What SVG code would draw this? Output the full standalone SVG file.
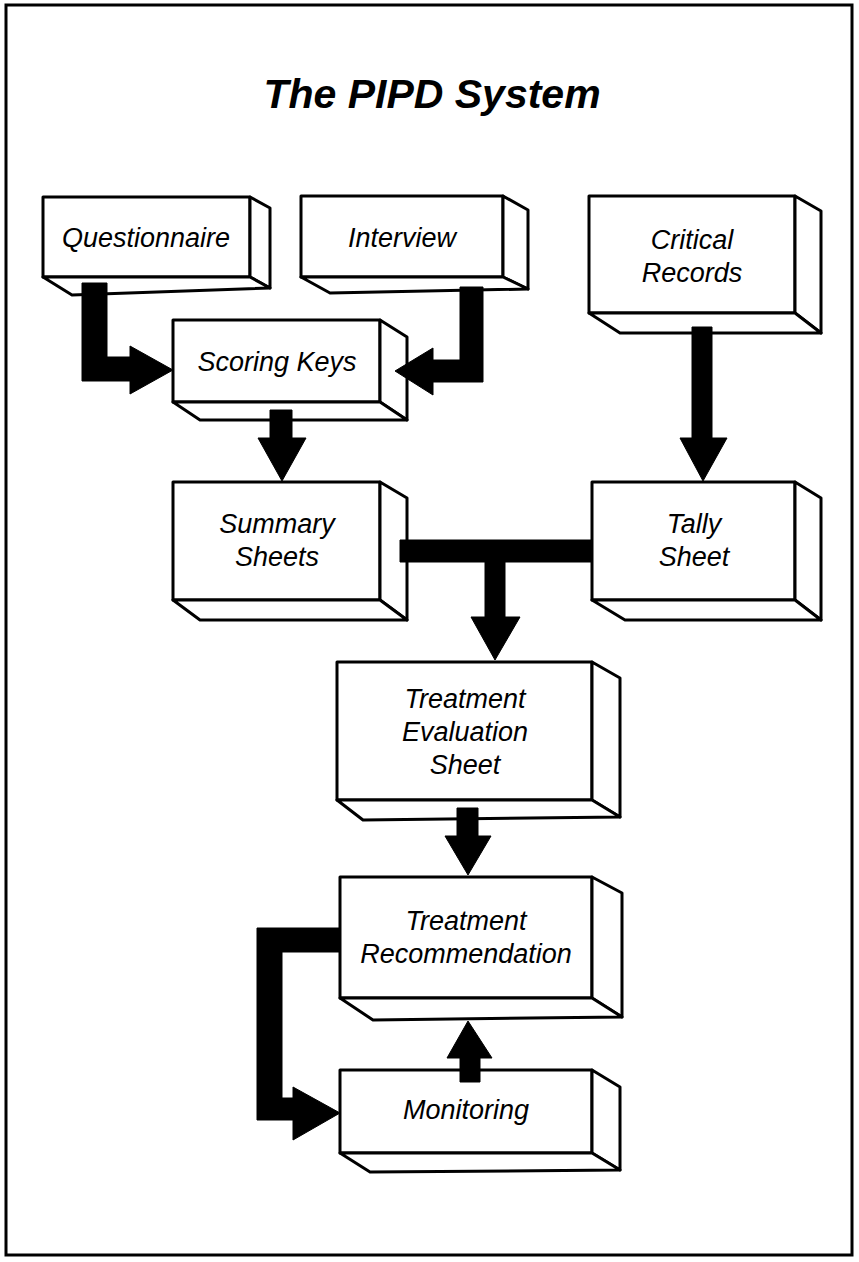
<svg xmlns="http://www.w3.org/2000/svg" width="859" height="1262" viewBox="0 0 859 1262">
<style>
.f{fill:#fff;stroke:#000;stroke-width:3;stroke-linejoin:round}
.lbl{font-family:"Liberation Sans",Arial,sans-serif;font-style:italic;font-size:27px;fill:#000;text-anchor:middle}
.ttl{font-family:"Liberation Sans",Arial,sans-serif;font-style:italic;font-weight:bold;font-size:41px;fill:#000;text-anchor:middle}
.arr{fill:#000;stroke:#000;stroke-width:1;stroke-linejoin:round}
</style>
<rect x="0" y="0" width="859" height="1262" fill="#fff"/>
<rect x="6" y="5" width="846" height="1250" fill="none" stroke="#000" stroke-width="3"/>
<text class="ttl" x="432" y="108">The PIPD System</text>

<g id="questionnaire">
<rect class="f" x="43" y="197" width="207" height="80"/>
<polygon class="f" points="250,197 270,208 270,288 250,277"/>
<polygon class="f" points="43,277 250,277 270,288 72,295"/>
<text class="lbl" x="146" y="247">Questionnaire</text>
</g>
<g id="interview">
<rect class="f" x="301" y="196" width="202" height="81"/>
<polygon class="f" points="503,196 528,210 528,289 503,277"/>
<polygon class="f" points="301,277 503,277 528,289 330,293"/>
<text class="lbl" x="402" y="247">Interview</text>
</g>
<g id="critical-records">
<rect class="f" x="589" y="196" width="206" height="117"/>
<polygon class="f" points="795,196 821,211 821,333 795,313"/>
<polygon class="f" points="589,313 795,313 821,333 620,333"/>
<text class="lbl" x="692" y="249">Critical</text>
<text class="lbl" x="692" y="282">Records</text>
</g>
<g id="scoring-keys">
<rect class="f" x="173" y="320" width="207" height="82"/>
<polygon class="f" points="380,320 407,337 407,420 380,402"/>
<polygon class="f" points="173,402 380,402 407,420 200,420"/>
<text class="lbl" x="277" y="371">Scoring Keys</text>
</g>
<g id="summary-sheets">
<rect class="f" x="173" y="482" width="207" height="118"/>
<polygon class="f" points="380,482 407,498 407,620 380,600"/>
<polygon class="f" points="173,600 380,600 407,620 200,620"/>
<text class="lbl" x="277" y="533">Summary</text>
<text class="lbl" x="277" y="566">Sheets</text>
</g>
<g id="tally-sheet">
<rect class="f" x="592" y="482" width="203" height="118"/>
<polygon class="f" points="795,482 821,498 821,620 795,600"/>
<polygon class="f" points="592,600 795,600 821,620 625,620"/>
<text class="lbl" x="694" y="533">Tally</text>
<text class="lbl" x="694" y="566">Sheet</text>
</g>
<g id="treatment-evaluation-sheet">
<rect class="f" x="337" y="662" width="255" height="138"/>
<polygon class="f" points="592,662 620,678 620,817 592,800"/>
<polygon class="f" points="337,800 592,800 620,817 363,820"/>
<text class="lbl" x="465" y="708">Treatment</text>
<text class="lbl" x="465" y="741">Evaluation</text>
<text class="lbl" x="465" y="774">Sheet</text>
</g>
<g id="treatment-recommendation">
<rect class="f" x="340" y="877" width="252" height="121"/>
<polygon class="f" points="592,877 622,893 622,1017 592,998"/>
<polygon class="f" points="340,998 592,998 622,1017 373,1020"/>
<text class="lbl" x="466" y="930">Treatment</text>
<text class="lbl" x="466" y="963">Recommendation</text>
</g>
<g id="monitoring">
<rect class="f" x="340" y="1070" width="252" height="83"/>
<polygon class="f" points="592,1070 620,1087 620,1170 592,1153"/>
<polygon class="f" points="340,1153 592,1153 620,1170 370,1172"/>
<text class="lbl" x="466" y="1119">Monitoring</text>
</g>

<g id="connectors">
<path class="arr" d="M82,283 H107 V357 H130 V346 L173,370 L130,394 V381 H82 Z"/>
<path class="arr" d="M460,287 H483 V382 H433 V395 L395,371 L433,348 V360 H460 Z"/>
<path class="arr" d="M270,410 H292 V438 H306 L282,481 L258,438 H270 Z"/>
<path class="arr" d="M692,327 H712 V438 H727 L703,481 L680,438 H692 Z"/>
<path class="arr" d="M400,540 H592 V562 H505 V617 H520 L495,660 L471,617 H485 V562 H400 Z"/>
<path class="arr" d="M457,808 H478 V836 H491 L468,875 L445,836 H457 Z"/>
<path class="arr" d="M460,1082 V1058 H447 L468,1021 L492,1058 H480 V1082 Z"/>
<path class="arr" d="M340,928 V952 H282 V1098 H293 V1087 L340,1113 L293,1140 V1120 H257 V928 Z"/>
</g>
</svg>
